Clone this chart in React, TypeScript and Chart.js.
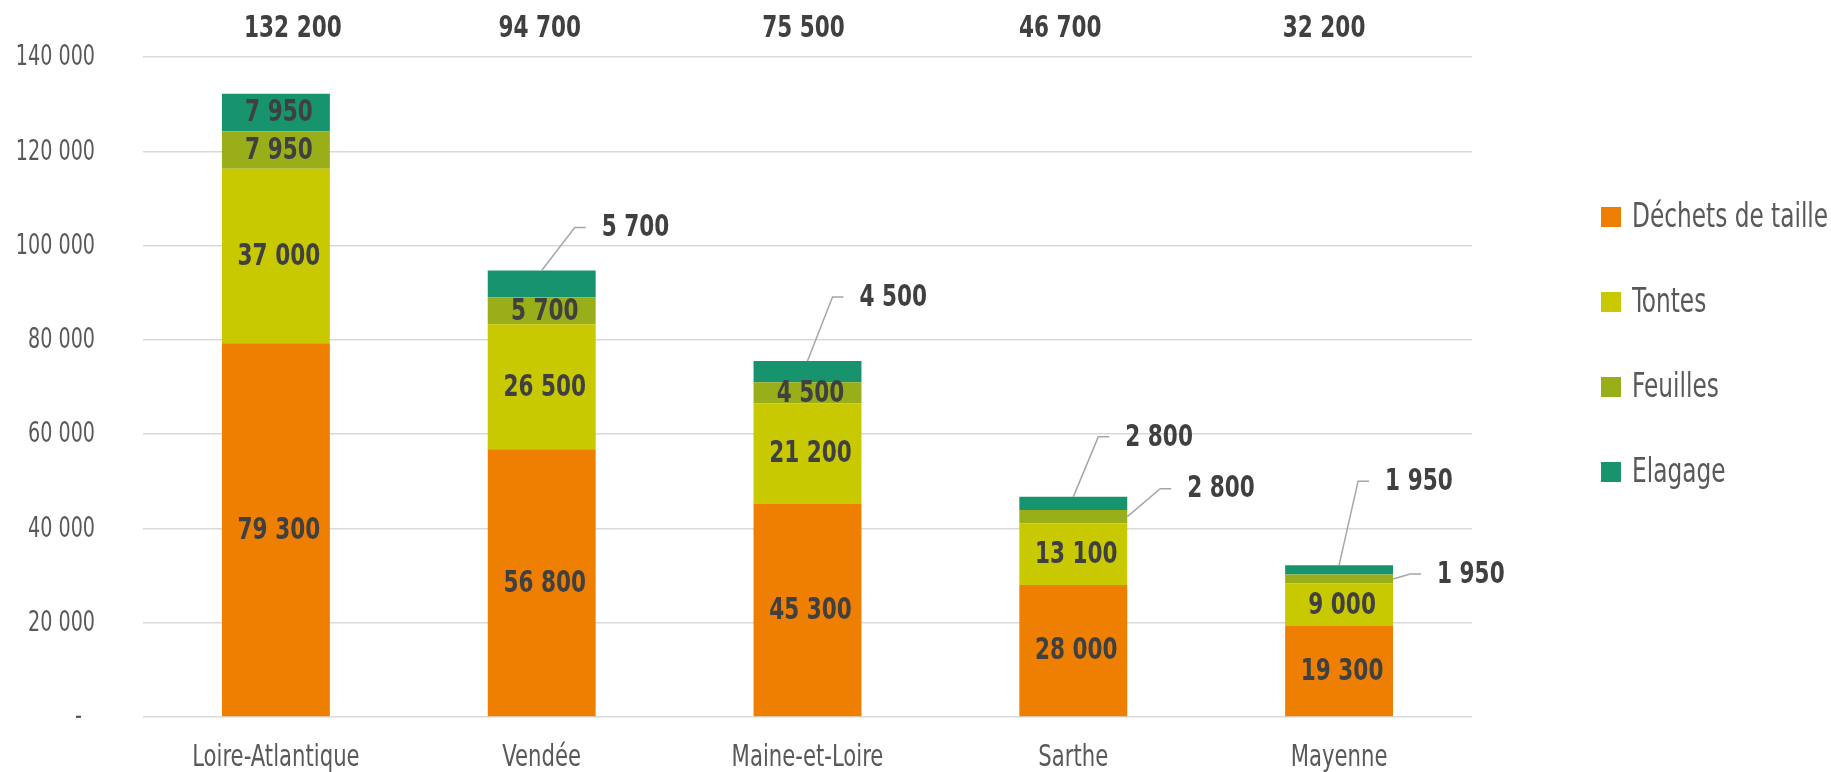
import React, { useEffect, useRef } from "react";
import { Chart, registerables } from "chart.js";

Chart.register(...registerables);

// ---------- data ----------
const categories = ["Loire-Atlantique", "Vendée", "Maine-et-Loire", "Sarthe", "Mayenne"];
const seriesNames = ["Déchets de taille", "Tontes", "Feuilles", "Elagage"];
const dechets = [79300, 56800, 45300, 28000, 19300];
const tontes = [37000, 26500, 21200, 13100, 9000];
const feuilles = [7950, 5700, 4500, 2800, 1950];
const elagage = [7950, 5700, 4500, 2800, 1950];
const totals = [132200, 94700, 75500, 46700, 32200];
const yMax = 140000;
const yStep = 20000;

// ---------- styles ----------
const COLORS = ["#EE7F00", "#C8C900", "#99AE18", "#17936E"];
const FONT = '"DejaVu Sans Condensed", "DejaVu Sans", sans-serif';
const SX_REG = 0.76; // horizontal compression to mimic a condensed face
const SX_BOLD = 0.8;
const TICK_COLOR = "#595959";
const LABEL_COLOR = "#404040";
const GRID_COLOR = "#D9D9D9";
const LEADER_COLOR = "#A6A6A6";
const TOTAL_DX = [17, -2, -4, -13, -15];
// leader-line labels: key = "dataset-index"
const LEADERS: Record<string, { anchor: "top" | "right"; dx: number; dy: number }> = {
  "3-1": { anchor: "top", dx: 33, dy: -43 },
  "3-2": { anchor: "top", dx: 25, dy: -64 },
  "3-3": { anchor: "top", dx: 25, dy: -60 },
  "3-4": { anchor: "top", dx: 19, dy: -84 },
  "2-3": { anchor: "right", dx: 33, dy: -28 },
  "2-4": { anchor: "right", dx: 17, dy: -5 },
};

const fmt = (n: number) => String(n).replace(/\B(?=(\d{3})+(?!\d))/g, " ");

function drawText(
  ctx: CanvasRenderingContext2D,
  text: string,
  x: number,
  y: number,
  align: CanvasTextAlign,
  font: string,
  color: string,
  sx: number
) {
  ctx.save();
  ctx.translate(x, y);
  ctx.scale(sx, 1);
  ctx.font = font;
  ctx.fillStyle = color;
  ctx.textAlign = align;
  ctx.textBaseline = "middle";
  ctx.fillText(text, 0, 0);
  ctx.restore();
}

const BOLD = `bold 30px ${FONT}`;

const axisTextPlugin = {
  id: "axisText",
  afterDraw(chart: any) {
    const ctx = chart.ctx;
    const ys = chart.scales.y;
    const xs = chart.scales.x;
    ys.ticks.forEach((t: any) => {
      const y = ys.getPixelForValue(t.value);
      const txt = t.value === 0 ? "-" : fmt(t.value);
      const x = t.value === 0 ? 82 : 95;
      drawText(ctx, txt, x, y + 1, "right", `28px ${FONT}`, TICK_COLOR, SX_REG);
    });
    chart.data.labels.forEach((lab: string, j: number) => {
      drawText(ctx, lab, xs.getPixelForValue(j), chart.chartArea.bottom + 41, "center", `31px ${FONT}`, TICK_COLOR, SX_REG);
    });
  },
};

const labelsPlugin = {
  id: "segLabels",
  afterDatasetsDraw(chart: any) {
    const ctx = chart.ctx;
    chart.data.datasets.forEach((ds: any, i: number) => {
      const meta = chart.getDatasetMeta(i);
      meta.data.forEach((el: any, j: number) => {
        const v = ds.data[j];
        const lead = LEADERS[`${i}-${j}`];
        if (!lead) {
          drawText(ctx, fmt(v), el.x + 3, (el.y + el.base) / 2 + 1, "center", BOLD, LABEL_COLOR, SX_BOLD);
        } else {
          const sx = lead.anchor === "top" ? el.x : el.x + el.width / 2;
          const sy = lead.anchor === "top" ? el.y : (el.y + el.base) / 2;
          const ex = sx + lead.dx;
          const ey = sy + lead.dy;
          ctx.save();
          ctx.strokeStyle = LEADER_COLOR;
          ctx.lineWidth = 1.5;
          ctx.beginPath();
          ctx.moveTo(sx, sy);
          ctx.lineTo(ex, ey);
          ctx.lineTo(ex + 11, ey);
          ctx.stroke();
          ctx.restore();
          drawText(ctx, fmt(v), ex + 27, ey + 1, "left", BOLD, LABEL_COLOR, SX_BOLD);
        }
      });
    });
    totals.forEach((t, j) => {
      drawText(ctx, fmt(t), chart.scales.x.getPixelForValue(j) + TOTAL_DX[j], 29, "center", BOLD, LABEL_COLOR, SX_BOLD);
    });
  },
};

const legendPlugin = {
  id: "customLegend",
  afterDraw(chart: any) {
    const ctx = chart.ctx;
    const area = chart.chartArea;
    chart.data.datasets.forEach((ds: any, i: number) => {
      const cy = 217 + i * 85;
      const bx = area.right + 129;
      ctx.save();
      ctx.fillStyle = ds.backgroundColor;
      ctx.fillRect(bx, cy - 10, 20, 20);
      ctx.restore();
      drawText(ctx, ds.label, bx + 31, cy + 1, "left", `34px ${FONT}`, TICK_COLOR, SX_REG);
    });
  },
};

export default function App() {
  const ref = useRef<HTMLCanvasElement | null>(null);

  useEffect(() => {
    document.body.style.margin = "0";
    if (!ref.current) return;
    const series = [dechets, tontes, feuilles, elagage];
    const chart = new Chart(ref.current, {
      type: "bar",
      data: {
        labels: categories,
        datasets: series.map((d, i) => ({
          label: seriesNames[i],
          data: d,
          backgroundColor: COLORS[i],
          borderWidth: 0,
          barPercentage: 0.406,
          categoryPercentage: 1,
        })),
      },
      options: {
        animation: false,
        responsive: true,
        maintainAspectRatio: false,
        layout: { padding: { top: 57, right: 359, left: 0, bottom: 0 } },
        plugins: {
          legend: { display: false },
          tooltip: { enabled: false },
        },
        scales: {
          x: {
            stacked: true,
            grid: { display: false, drawTicks: false },
            border: { display: false },
            ticks: { display: false },
            afterFit: (s: any) => {
              s.height = 55;
            },
          },
          y: {
            stacked: true,
            min: 0,
            max: yMax,
            grid: { color: GRID_COLOR, lineWidth: 1.5, drawTicks: false },
            border: { display: false },
            ticks: { display: false, stepSize: yStep },
            afterFit: (s: any) => {
              s.width = 143;
            },
          },
        },
      },
      plugins: [labelsPlugin, axisTextPlugin, legendPlugin],
    });
    return () => chart.destroy();
  }, []);

  return (
    <div style={{ width: 1831, height: 772, position: "relative" }}>
      <canvas ref={ref} />
    </div>
  );
}
